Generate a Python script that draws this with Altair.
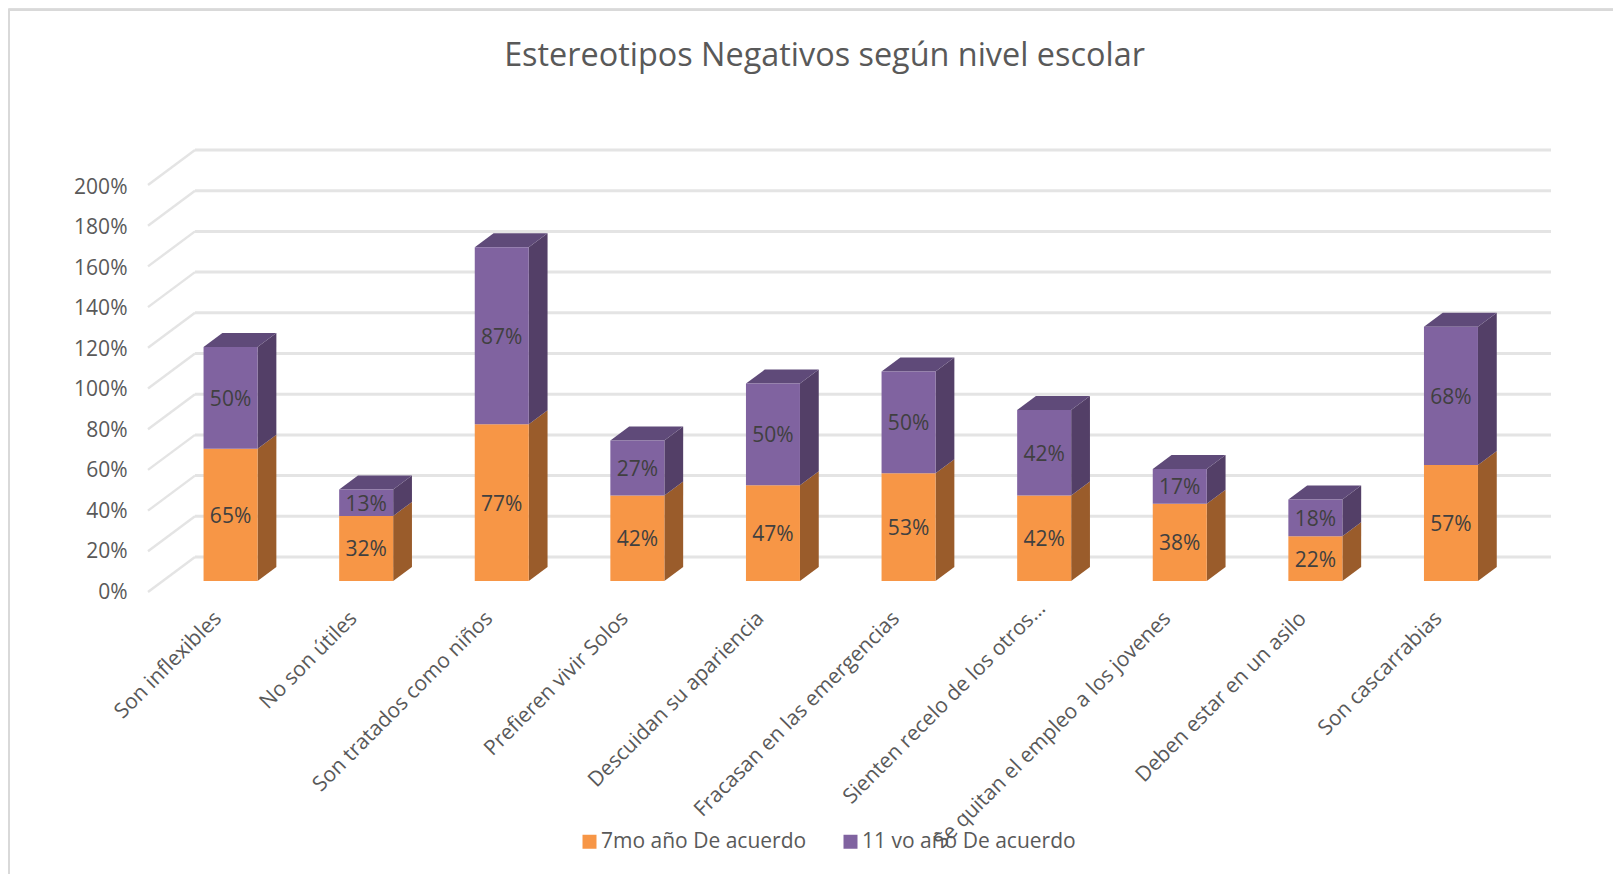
import json
import altair as alt
import pandas as pd

categories = ["Son inflexibles", "No son útiles", "Son tratados como niños", "Prefieren vivir Solos",
              "Descuidan su apariencia", "Fracasan en las emergencias", "Sienten recelo de los otros…",
              "Se quitan el empleo a los jovenes", "Deben estar en un asilo", "Son cascarrabias"]
series_names = ["7mo año De acuerdo", "11 vo año De acuerdo"]
values_7mo = [65, 32, 77, 42, 47, 53, 42, 38, 22, 57]
values_11vo = [50, 13, 87, 27, 50, 50, 42, 17, 18, 68]
ticks = list(range(0, 201, 20))

W, H = 1605, 866
PX_U, PX_V = 135.6, 2.035      # pixels per category, pixels per percent point
X0, Y0 = 148 - 8, 592 - 8      # front-left floor corner inside the canvas
DU, DV = 47 / PX_U, 35 / PX_V  # depth of the floor, in data units
F1, F2 = 0.314, 0.714          # depth position of the bars' front and back
BW = 54 / PX_U
LABEL_SQUEEZE = 0.994          # the tick labels sit slightly closer together than the wall's grid lines

xscale = alt.Scale(domain=[-X0 / PX_U, (W - X0) / PX_U], range=[0, W], nice=False, zero=False)
yscale = alt.Scale(domain=[(Y0 - H) / PX_V, Y0 / PX_V], range=[H, 0], nice=False, zero=False)

ORANGE, ORANGE_SIDE = "#F79646", "#9A5C2B"
PURPLE, PURPLE_SIDE, PURPLE_TOP = "#8063A0", "#533F67", "#5F4A79"
GRID, FRAME, TEXT, LABEL = "#E4E4E4", "#D9D9D9", "#595959", "#404040"
FONT = "Open Sans"

front, side, top = [], [], []
for i, (a, b) in enumerate(zip(values_7mo, values_11vo)):
    cu = i + 0.5 + F1 * DU
    base = F1 * DV
    for name, lo, hi, val in [(series_names[0], base, base + a, a), (series_names[1], base + a, base + a + b, b)]:
        l, r = cu - BW / 2, cu + BW / 2
        front.append(dict(series=name, u=l, u2=r, c=cu, lo=lo, hi=hi, mid=(lo + hi) / 2, label=f"{val}%"))
        d_u, d_v = (F2 - F1) * DU, (F2 - F1) * DV
        side.append(dict(series=name, key=f"{i}-{name}", u=r, lo=lo, hi=hi))
        side.append(dict(series=name, key=f"{i}-{name}", u=r + d_u, lo=lo + d_v, hi=hi + d_v))
        if name == series_names[1]:
            top.append(dict(key=i, v=hi, u=l, u2=r))
            top.append(dict(key=i, v=hi + d_v, u=l + d_u, u2=r + d_u))
front, side, top = pd.DataFrame(front), pd.DataFrame(side), pd.DataFrame(top)
grid = pd.DataFrame({"v": ticks})
grid["vb"] = grid.v + DV
grid["ua"], grid["ub"], grid["uc"] = 0.0, DU, DU + len(categories)

x_ticks = [i + 0.5 + F1 * DU for i in range(len(categories))]
tick_index = f"round(datum.value - {0.5 + F1 * DU})"
label_pad = 597 - 8 - H + 18
x_axis = alt.Axis(values=x_ticks, labelExpr=f"{json.dumps(categories, ensure_ascii=False)}[{tick_index}]",
                  labelAngle=-45, labelAlign="right", labelBaseline="middle",
                  labelPadding={"condition": {"test": f"{tick_index} == 6", "value": label_pad - 10}, "value": label_pad},
                  labelOffset={"condition": {"test": f"{tick_index} == 6", "value": -2.4}, "value": -12.7},
                  labelFont=FONT, labelFontSize=21, labelColor=TEXT, labelOverlap=False, labelBound=False,
                  labelFlush=False, ticks=False, domain=False, grid=False, title=None, labelLimit=600)
y_axis = alt.Axis(values=[t * LABEL_SQUEEZE for t in ticks], labelExpr=f"round(datum.value / {LABEL_SQUEEZE}) + '%'",
                  labelPadding=-119, labelFont=FONT, labelFontSize=21,
                  labelColor=TEXT, ticks=False, domain=False, grid=False, title=None, labelOverlap=False,
                  labelBound=False, labelFlush=False)

X = lambda f: alt.X(f, scale=xscale, axis=x_axis)
Y = lambda f: alt.Y(f, scale=yscale, axis=y_axis, stack=None)

diag = alt.Chart(grid).mark_rule(color=GRID, strokeWidth=2.4).encode(x=X("ua:Q"), x2="ub:Q", y=Y("v:Q"), y2="vb:Q")
back = alt.Chart(grid).mark_rule(color=GRID, strokeWidth=3).encode(x=X("ub:Q"), x2="uc:Q", y=Y("vb:Q"))

layers = [diag, back]
for name, col in [(series_names[0], ORANGE_SIDE), (series_names[1], PURPLE_SIDE)]:
    layers.append(alt.Chart(side[side.series == name]).mark_area(color=col, interpolate="linear").encode(
        x=X("u:Q"), y=Y("lo:Q"), y2="hi:Q", detail="key:N"))
layers.append(alt.Chart(top).mark_area(color=PURPLE_TOP, orient="horizontal", interpolate="linear").encode(
    y=Y("v:Q"), x=X("u:Q"), x2="u2:Q", detail="key:N"))

legend = alt.Legend(orient="none", legendX=579 - 8, legendY=831 - 8, direction="horizontal", title=None,
                    symbolType="square", symbolSize=196, symbolStrokeWidth=0, labelFont=FONT, labelFontSize=21,
                    labelColor=TEXT, labelOffset=1, columnPadding=33, labelLimit=400, padding=0)
layers.append(alt.Chart(front).mark_rect().encode(
    x=X("u:Q"), x2="u2:Q", y=Y("lo:Q"), y2="hi:Q",
    color=alt.Color("series:N", scale=alt.Scale(domain=series_names, range=[ORANGE, PURPLE]), legend=legend)))
layers.append(alt.Chart(front).mark_text(font=FONT, fontSize=21, color=LABEL, dy=2).encode(
    x=X("c:Q"), y=Y("mid:Q"), text="label:N"))

frame_top = alt.Chart(grid).mark_rule(color=FRAME, strokeWidth=2).encode(x=alt.value(0), x2=alt.value(W), y=alt.value(2))
frame_left = alt.Chart(grid).mark_rule(color=FRAME, strokeWidth=1.6).encode(y=alt.value(1), y2=alt.value(H), x=alt.value(0.8))
layers += [frame_top, frame_left]

chart = alt.layer(*layers).properties(
    width=W, height=H, padding=0, autosize=alt.AutoSizeParams(type="none"),
    title=alt.TitleParams("Estereotipos Negativos según nivel escolar", font=FONT, fontSize=32.4, fontWeight="normal",
                          color=TEXT, anchor="middle", baseline="middle", offset=-80, dx=14),
).configure_view(stroke=None).configure(background="white")
chart.save("out.html", embed_options={"renderer": "svg", "actions": False})
